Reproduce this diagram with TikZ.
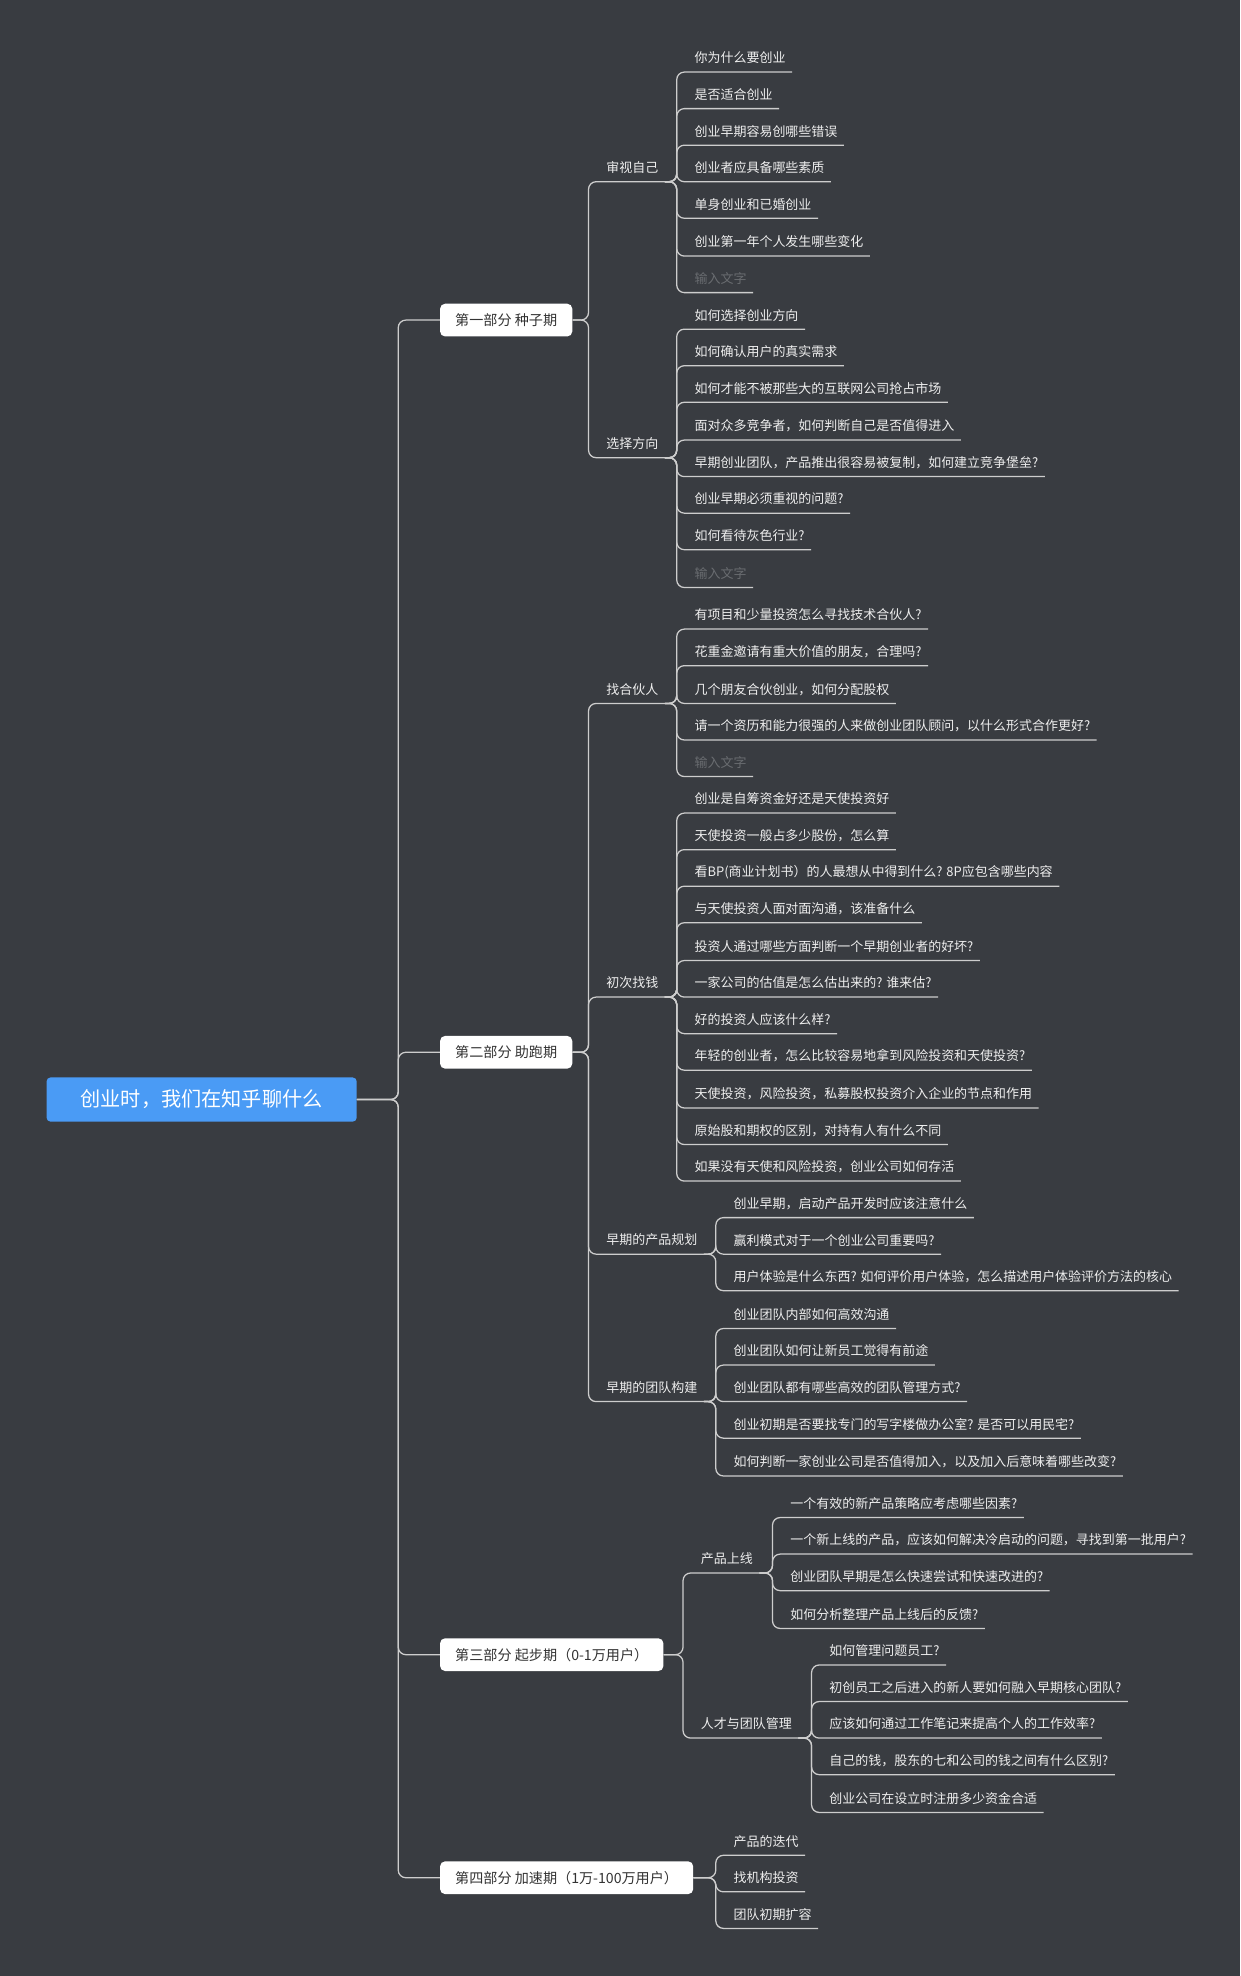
\documentclass[tikz,border=0pt]{standalone}
\usepackage{fontspec}
\setmainfont{Noto Sans CJK SC}
\begin{document}
\definecolor{bg}{RGB}{57,60,65}
\definecolor{ln}{RGB}{205,205,205}
\definecolor{tx}{RGB}{238,238,238}
\definecolor{gt}{RGB}{105,108,112}
\definecolor{rb}{RGB}{74,155,245}
\begin{tikzpicture}[x=1pt,y=-1pt,
  lf/.style={anchor=west,inner xsep=0pt,inner ysep=0pt,minimum height=22pt,text=tx,font=\fontsize{10.3}{12}\selectfont,
    execute at begin node={\hspace{14pt}},execute at end node={\hspace{5pt}}},
  lg/.style={lf,text=gt},
  bx/.style={fill=white,rounded corners=4pt,text=black!80,inner xsep=12pt,minimum height=26pt,font=\fontsize{11.2}{13}\selectfont},
  cl/.style={draw=ln,line width=1pt,rounded corners=6pt}]
\fill[bg] (0,0) rectangle (984,1568);
\useasboundingbox (0,0) rectangle (984,1568);
\newcommand\cn[2]{\draw[cl] (#1.south east) -- (#2.south west |- #1.south east) -- (#2.south west) -- (#2.south east);}
\newcommand\cb[2]{\draw[cl] (#1.east) -- (#2.south west |- #1.east) -- (#2.south west) -- (#2.south east);}
\node[fill=rb,rounded corners=3pt,text=white,minimum width=246pt,minimum height=35pt,font=\fontsize{16}{18}\selectfont] (root) at (160,872.5) {创业时，我们在知乎聊什么};
\coordinate (tr) at (316,872.5);
\node[bx,anchor=west] (p1) at (349,254) {第一部分 种子期};
\node[bx,anchor=west] (p2) at (349,835) {第二部分 助跑期};
\node[bx,anchor=west] (p3) at (349,1313) {第三部分 起步期（0-1万用户）};
\node[bx,anchor=west] (p4) at (349,1490) {第四部分 加速期（1万-100万用户）};
\foreach \p in {p1,p2,p3,p4} {\draw[cl] (root.east) -- (tr) -- (tr |- \p.west) -- (\p.west);}
% part 1
\node[lf] (s1) at (467,133) {审视自己};
\node[lf] (s2) at (467,352) {选择方向};
\node[lf] (a1) at (537,46) {你为什么要创业};
\node[lf] (a2) at (537,75) {是否适合创业};
\node[lf] (a3) at (537,104) {创业早期容易创哪些错误};
\node[lf] (a4) at (537,133) {创业者应具备哪些素质};
\node[lf] (a5) at (537,162) {单身创业和已婚创业};
\node[lf] (a6) at (537,192) {创业第一年个人发生哪些变化};
\node[lg] (a7) at (537,221) {输入文字};
\node[lf] (b1) at (537,250) {如何选择创业方向};
\node[lf] (b2) at (537,279) {如何确认用户的真实需求};
\node[lf] (b3) at (537,308) {如何才能不被那些大的互联网公司抢占市场};
\node[lf] (b4) at (537,338) {面对众多竞争者，如何判断自己是否值得进入};
\node[lf] (b5) at (537,367) {早期创业团队，产品推出很容易被复制，如何建立竞争堡垒?};
\node[lf] (b6) at (537,396) {创业早期必须重视的问题?};
\node[lf] (b7) at (537,425) {如何看待灰色行业?};
\node[lg] (b8) at (537,455) {输入文字};
\cb{p1}{s1}\cb{p1}{s2}
\foreach \c in {a1,a2,a3,a4,a5,a6,a7} {\cn{s1}{\c}}
\foreach \c in {b1,b2,b3,b4,b5,b6,b7,b8} {\cn{s2}{\c}}
% part 2
\node[lf] (t1) at (467,547) {找合伙人};
\node[lf] (t2) at (467,780) {初次找钱};
\node[lf] (t3) at (467,984) {早期的产品规划};
\node[lf] (t4) at (467,1101) {早期的团队构建};
\node[lf] (c1) at (537,488) {有项目和少量投资怎么寻找技术合伙人?};
\node[lf] (c2) at (537,517) {花重金邀请有重大价值的朋友，合理吗?};
\node[lf] (c3) at (537,547) {几个朋友合伙创业，如何分配股权};
\node[lf] (c4) at (537,576) {请一个资历和能力很强的人来做创业团队顾问，以什么形式合作更好?};
\node[lg] (c5) at (537,605) {输入文字};
\node[lf] (d1) at (537,634) {创业是自筹资金好还是天使投资好};
\node[lf] (d2) at (537,663) {天使投资一般占多少股份，怎么算};
\node[lf] (d3) at (537,692) {看BP(商业计划书）的人最想从中得到什么? 8P应包含哪些内容};
\node[lf] (d4) at (537,721) {与天使投资人面对面沟通，该准备什么};
\node[lf] (d5) at (537,751) {投资人通过哪些方面判断一个早期创业者的好坏?};
\node[lf] (d6) at (537,780) {一家公司的估值是怎么估出来的? 谁来估?};
\node[lf] (d7) at (537,809) {好的投资人应该什么样?};
\node[lf] (d8) at (537,838) {年轻的创业者，怎么比较容易地拿到风险投资和天使投资?};
\node[lf] (d9) at (537,868) {天使投资，风险投资，私募股权投资介入企业的节点和作用};
\node[lf] (d10) at (537,897) {原始股和期权的区别，对持有人有什么不同};
\node[lf] (d11) at (537,926) {如果没有天使和风险投资，创业公司如何存活};
\node[lf] (e1) at (568,955) {创业早期，启动产品开发时应该注意什么};
\node[lf] (e2) at (568,984) {赢利模式对于一个创业公司重要吗?};
\node[lf] (e3) at (568,1013) {用户体验是什么东西? 如何评价用户体验，怎么描述用户体验评价方法的核心};
\node[lf] (f1) at (568,1043) {创业团队内部如何高效沟通};
\node[lf] (f2) at (568,1072) {创业团队如何让新员工觉得有前途};
\node[lf] (f3) at (568,1101) {创业团队都有哪些高效的团队管理方式?};
\node[lf] (f4) at (568,1130) {创业初期是否要找专门的写字楼做办公室? 是否可以用民宅?};
\node[lf] (f5) at (568,1160) {如何判断一家创业公司是否值得加入，以及加入后意味着哪些改变?};
\foreach \c in {t1,t2,t3,t4} {\cb{p2}{\c}}
\foreach \c in {c1,c2,c3,c4,c5} {\cn{t1}{\c}}
\foreach \c in {d1,d2,d3,d4,d5,d6,d7,d8,d9,d10,d11} {\cn{t2}{\c}}
\foreach \c in {e1,e2,e3} {\cn{t3}{\c}}
\foreach \c in {f1,f2,f3,f4,f5} {\cn{t4}{\c}}
% part 3
\node[lf] (u1) at (542,1237) {产品上线};
\node[lf] (u2) at (542,1368) {人才与团队管理};
\node[lf] (g1) at (613,1193) {一个有效的新产品策略应考虑哪些因素?};
\node[lf] (g2) at (613,1222) {一个新上线的产品，应该如何解决冷启动的问题，寻找到第一批用户?};
\node[lf] (g3) at (613,1251) {创业团队早期是怎么快速尝试和快速改进的?};
\node[lf] (g4) at (613,1281) {如何分析整理产品上线后的反馈?};
\node[lf] (h1) at (644,1310) {如何管理问题员工?};
\node[lf] (h2) at (644,1339) {初创员工之后进入的新人要如何融入早期核心团队?};
\node[lf] (h3) at (644,1368) {应该如何通过工作笔记来提高个人的工作效率?};
\node[lf] (h4) at (644,1397) {自己的钱，股东的七和公司的钱之间有什么区别?};
\node[lf] (h5) at (644,1427) {创业公司在设立时注册多少资金合适};
\cb{p3}{u1}\cb{p3}{u2}
\foreach \c in {g1,g2,g3,g4} {\cn{u1}{\c}}
\foreach \c in {h1,h2,h3,h4,h5} {\cn{u2}{\c}}
% part 4
\node[lf] (k1) at (568,1461) {产品的迭代};
\node[lf] (k2) at (568,1490) {找机构投资};
\node[lf] (k3) at (568,1519) {团队初期扩容};
\foreach \c in {k1,k2,k3} {\cb{p4}{\c}}
\end{tikzpicture}
\end{document}
